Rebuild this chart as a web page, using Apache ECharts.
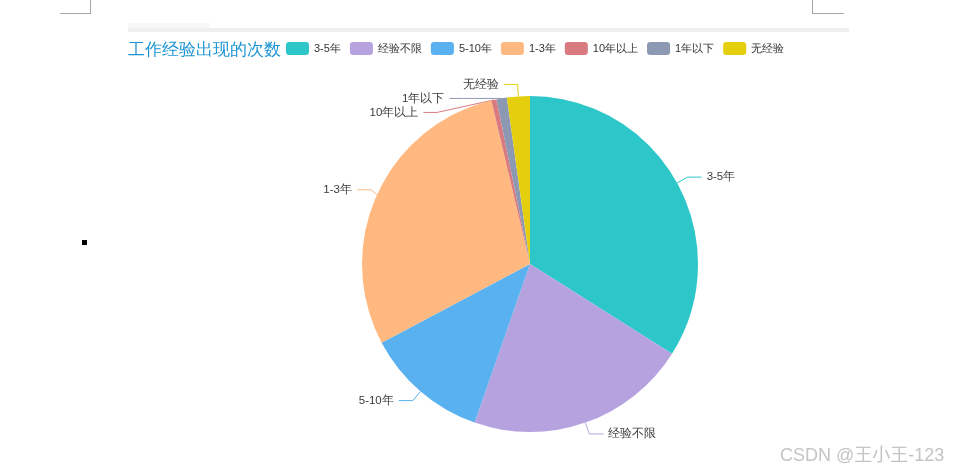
<!DOCTYPE html>
<html lang="zh">
<head>
  <meta charset="UTF-8">
  <title>工作经验出现的次数</title>
  <script src="https://cdn.jsdelivr.net/npm/echarts@6.0.0/dist/echarts.min.js"></script>
  <style>
    body { margin: 0; width: 963px; height: 470px; background: #fff; position: relative; overflow: hidden;
           font-family: "Noto Sans CJK SC", sans-serif; }
    /* page decorations around the chart picture */
    .corner { position: absolute; border-color: #a8a8a8; border-style: solid; }
    #corner-left { left: 60px; top: 0; width: 30px; height: 13px; border-width: 0 1px 1px 0; }
    #corner-right { left: 812px; top: 0; width: 31px; height: 13px; border-width: 0 0 1px 1px; }
    #bar-tab { position: absolute; left: 128px; top: 23px; width: 82px; height: 6px; background: #f7f7f7; }
    #bar { position: absolute; left: 128px; top: 28px; width: 721px; height: 4px; background: #efefef; }
    #bullet { position: absolute; left: 82px; top: 240px; width: 5px; height: 5px; background: #000; }
    #watermark { position: absolute; left: 780px; top: 440px; font-size: 18px; color: #c4c4c4;
                 font-family: "Liberation Sans", "Noto Sans CJK SC", sans-serif; }
    #chart-container { position: absolute; left: 128px; top: 32px; width: 720px; height: 438px; }
  </style>
</head>
<body>
  <div class="corner" id="corner-left"></div>
  <div class="corner" id="corner-right"></div>
  <div id="bar-tab"></div>
  <div id="bar"></div>
  <div id="bullet"></div>
  <div id="chart-container"></div>
  <div id="watermark">CSDN @王小王-123</div>

  <script>
    // categories and counts
    const categories = ['3-5年', '经验不限', '5-10年', '1-3年', '10年以上', '1年以下', '无经验'];
    const counts = [340, 214, 119, 291, 5, 10, 22];
    const colors = ['#2ec7c9', '#b6a2de', '#5ab1ef', '#ffb980', '#d87a80', '#8d98b3', '#e5cf0d'];

    const pieData = categories.map((name, i) => ({ name: name, value: counts[i] }));

    const option = {
      color: colors,
      animation: false,
      title: {
        text: '工作经验出现的次数',
        left: -5,
        top: 5,
        textStyle: { color: '#1d95d4', fontSize: 16.5, fontWeight: 'normal' }
      },
      legend: {
        data: categories,
        left: 153,
        top: 5,
        itemWidth: 23,
        itemHeight: 13,
        itemGap: 9,
        textStyle: { color: '#333', fontSize: 11 }
      },
      series: [
        {
          name: '工作经验',
          type: 'pie',
          center: [402, 232],
          radius: 168,
          startAngle: 90,
          data: pieData,
          label: { color: '#3a3a3a', fontSize: 11.5 },
          labelLine: { length: 12, length2: 14 }
        }
      ]
    };

    const myChart = echarts.init(document.getElementById('chart-container'));
    myChart.setOption(option);
  </script>
</body>
</html>
